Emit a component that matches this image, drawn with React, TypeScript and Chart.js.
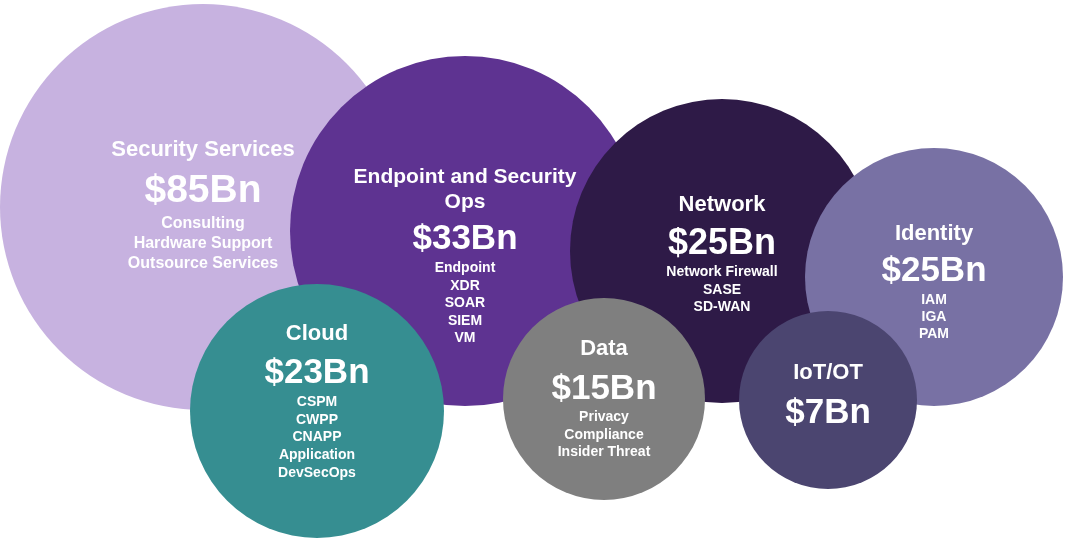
import React, { useEffect, useRef } from "react";
import { Chart, registerables } from "chart.js";

Chart.register(...registerables);

// ---- data ----
const categories = [
  "Security Services",
  "Endpoint and Security\nOps",
  "Network",
  "Identity",
  "Cloud",
  "Data",
  "IoT/OT",
];
const marketValueBn = [85, 33, 25, 25, 23, 15, 7];
const segments: string[][] = [
  ["Consulting", "Hardware Support", "Outsource Services"],
  ["Endpoint", "XDR", "SOAR", "SIEM", "VM"],
  ["Network Firewall", "SASE", "SD-WAN"],
  ["IAM", "IGA", "PAM"],
  ["CSPM", "CWPP", "CNAPP", "Application", "DevSecOps"],
  ["Privacy", "Compliance", "Insider Threat"],
  [],
];
// bubble placement on the (hidden) layout axes and bubble size
const bubbleX = [203, 465, 722, 934, 317, 604, 828];
const bubbleY = [207, 231, 251, 277, 411, 399, 400];
const bubbleR = [203, 175, 152, 129, 127, 101, 89];

// ---- styles ----
const colors = ["#C7B2E0", "#5E3391", "#2E1A47", "#7871A4", "#368E91", "#7F7F7F", "#4B4570"];

type LabelStyle = {
  title: number;
  value: number;
  item: number;
  itemGap: number;
  valueDy: number;
  titleGap: number;
  titleLineH: number;
  itemStart: number;
};
const labelStyles: LabelStyle[] = [
  { title: 22, value: 39, item: 16, itemGap: 20, valueDy: -19, titleGap: 40, titleLineH: 25, itemStart: 34 },
  { title: 21, value: 35, item: 14, itemGap: 17.5, valueDy: 5, titleGap: 36, titleLineH: 25, itemStart: 31 },
  { title: 22, value: 36, item: 14, itemGap: 17.5, valueDy: -10, titleGap: 38, titleLineH: 25, itemStart: 30 },
  { title: 22, value: 35, item: 14, itemGap: 17, valueDy: -9, titleGap: 36, titleLineH: 25, itemStart: 31 },
  { title: 22, value: 35, item: 14, itemGap: 17.7, valueDy: -41, titleGap: 38, titleLineH: 25, itemStart: 31 },
  { title: 22, value: 35, item: 14, itemGap: 17.5, valueDy: -13, titleGap: 39, titleLineH: 25, itemStart: 30 },
  { title: 22, value: 35, item: 14, itemGap: 17.5, valueDy: 10, titleGap: 39, titleLineH: 25, itemStart: 30 },
];

const FONT = '"Liberation Sans", Arial, Helvetica, sans-serif';
const CAP = 0.358; // half cap-height ratio, to center caps on a line

const labelPlugin = {
  id: "bubbleLabels",
  afterDatasetsDraw(chart: any) {
    const ctx: CanvasRenderingContext2D = chart.ctx;
    const meta = chart.getDatasetMeta(0);
    ctx.save();
    ctx.fillStyle = "#FFFFFF";
    ctx.textAlign = "center";
    ctx.textBaseline = "alphabetic";
    meta.data.forEach((el: any, i: number) => {
      const s = labelStyles[i];
      const cx = el.x;
      const vy = el.y + s.valueDy;
      // value
      ctx.font = `bold ${s.value}px ${FONT}`;
      ctx.fillText(`$${marketValueBn[i]}Bn`, cx, vy + s.value * CAP);
      // title lines (last line sits titleGap above value)
      const tl = categories[i].split("\n");
      ctx.font = `bold ${s.title}px ${FONT}`;
      tl.forEach((t, k) => {
        const y = vy - s.titleGap - (tl.length - 1 - k) * s.titleLineH;
        ctx.fillText(t, cx, y + s.title * CAP);
      });
      // segment items
      ctx.font = `bold ${s.item}px ${FONT}`;
      segments[i].forEach((t, k) => {
        const y = vy + s.itemStart + k * s.itemGap;
        ctx.fillText(t, cx, y + s.item * CAP);
      });
    });
    ctx.restore();
  },
};

export default function App() {
  const ref = useRef<HTMLCanvasElement | null>(null);
  useEffect(() => {
    document.body.style.margin = "0";
    const canvas = ref.current;
    if (!canvas) return;
    const chart = new Chart(canvas, {
      type: "bubble",
      data: {
        labels: categories,
        datasets: [
          {
            data: categories.map((_, i) => ({ x: bubbleX[i], y: bubbleY[i], r: bubbleR[i] })),
            backgroundColor: colors,
            borderWidth: 0,
            hoverBorderWidth: 0,
            clip: false as any,
          },
        ],
      },
      options: {
        responsive: false,
        animation: false,
        devicePixelRatio: 1,
        events: [],
        layout: { padding: 0, autoPadding: false },
        plugins: { legend: { display: false }, tooltip: { enabled: false } },
        scales: {
          x: { type: "linear", min: 0, max: 1069, display: false },
          y: { type: "linear", min: 0, max: 541, reverse: true, display: false },
        },
      },
      plugins: [labelPlugin],
    });
    return () => chart.destroy();
  }, []);
  return (
    <div style={{ width: 1069, height: 541, background: "#FFFFFF" }}>
      <canvas ref={ref} width={1069} height={541} style={{ display: "block" }} />
    </div>
  );
}
